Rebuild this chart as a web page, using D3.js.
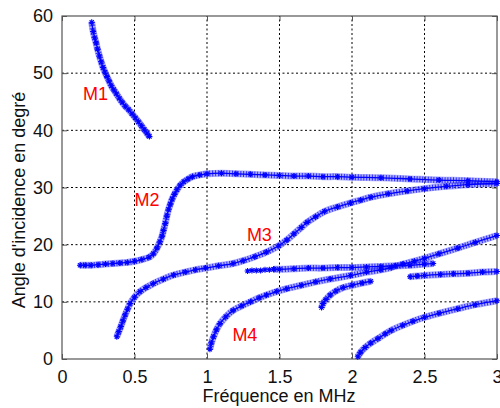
<!DOCTYPE html>
<html lang="fr">
<head>
<meta charset="utf-8">
<script src="https://cdn.jsdelivr.net/npm/d3@7"></script>
<style>
    body { margin: 0; background: #fff; }
    text { font-family: Arial, "Liberation Sans", sans-serif; }
</style>
</head>
<body>
<div id="chart"></div>
<script>
// tick values
const xTicks = [0, 0.5, 1, 1.5, 2, 2.5, 3];
const xTickLabels = ["0", "0.5", "1", "1.5", "2", "2.5", "3"];
const yTicks = [0, 10, 20, 30, 40, 50, 60];

// branches: [frequency MHz, angle deg]
const m1 = [[0.205,58.9],[0.215,57.3],[0.225,56.2],[0.235,55.3],[0.245,54.2],[0.258,53.0],[0.27,52.0],
    [0.283,51.0],[0.296,50.2],[0.31,49.4],[0.325,48.6],[0.34,47.8],[0.357,47.1],[0.375,46.4],[0.395,45.6],
    [0.415,44.9],[0.437,44.2],[0.46,43.6],[0.483,42.9],[0.505,42.2],[0.527,41.5],[0.548,40.8],[0.568,40.1],
    [0.586,39.5],[0.603,38.9]];
const m2 = [[0.124,16.4],[0.16,16.4],[0.2,16.4],[0.25,16.5],[0.3,16.6],[0.35,16.7],[0.4,16.8],[0.45,16.9],
    [0.5,17.1],[0.55,17.4],[0.6,17.8],[0.63,18.4],[0.655,19.4],[0.675,20.5],[0.69,21.5],[0.70,22.5],
    [0.712,23.7],[0.723,25.0],[0.735,26.2],[0.747,27.1],[0.76,28.0],[0.775,28.8],[0.793,29.6],[0.815,30.4],
    [0.84,31.0],[0.87,31.5],[0.9,31.9],[0.95,32.2],[1.0,32.4],[1.1,32.5],[1.2,32.4],[1.3,32.3],[1.4,32.2],
    [1.5,32.1],[1.6,32.0],[1.7,32.0],[1.8,31.9],[1.9,31.9],[2.0,31.8],[2.2,31.7],[2.4,31.5],[2.6,31.3],
    [2.8,31.2],[3.0,31.0]];
const m3 = [[0.378,3.9],[0.392,4.8],[0.406,5.7],[0.42,6.7],[0.435,7.7],[0.452,8.7],[0.47,9.7],[0.5,10.8],
    [0.539,11.8],[0.58,12.5],[0.63,13.2],[0.7,14.0],[0.77,14.7],[0.85,15.2],[0.92,15.6],[0.99,15.9],
    [1.08,16.3],[1.18,16.7],[1.25,17.2],[1.33,17.9],[1.41,18.7],[1.495,19.8],[1.55,20.8],[1.6,21.9],
    [1.65,23.0],[1.69,23.9],[1.75,24.9],[1.81,25.8],[1.9,26.6],[1.99,27.3],[2.06,27.8],[2.13,28.3],
    [2.25,28.9],[2.38,29.4],[2.5,29.8],[2.65,30.2],[2.8,30.5],[3.0,30.7]];
const m4 = [[1.02,1.7],[1.03,2.8],[1.045,3.9],[1.065,5.1],[1.09,6.2],[1.13,7.4],[1.18,8.5],[1.24,9.3],
    [1.30,10.0],[1.36,10.7],[1.41,11.2],[1.48,11.8],[1.55,12.3],[1.65,12.9],[1.75,13.5],[1.85,14.0],
    [1.99,14.6],[2.1,15.2],[2.2,15.6],[2.27,16.0],[2.35,16.6],[2.43,17.1],[2.5,17.6],[2.6,18.4],
    [2.73,19.4],[2.85,20.4],[3.0,21.6]];
const flatStart = [[1.28,15.4],[1.31,15.5],[1.34,15.5],[1.37,15.5],[1.40,15.6],[1.43,15.6],[1.46,15.7]];
const flat = [[1.46,15.7],[1.5,15.7],[1.6,15.8],[1.7,15.9],[1.8,15.9],[1.9,16.0],[2.0,16.0],[2.1,16.1],
    [2.2,16.2],[2.3,16.3],[2.4,16.4],[2.5,16.6],[2.56,16.7]];
const branch = [[1.79,9.0],[1.80,9.7],[1.82,10.4],[1.85,11.2],[1.89,11.9],[1.94,12.5],[2.0,12.9],
    [2.07,13.3],[2.13,13.6]];
const flatRight = [[2.4,14.4],[2.45,14.5],[2.5,14.6],[2.61,14.8],[2.7,14.9],[2.8,15.0],[2.9,15.2],[3.0,15.3]];
const bottom = [[2.04,0.4],[2.06,1.2],[2.09,2.0],[2.13,2.8],[2.18,3.6],[2.23,4.4],[2.27,5.0],[2.35,5.9],
    [2.42,6.6],[2.5,7.3],[2.6,8.0],[2.73,8.8],[2.85,9.5],[3.0,10.2]];

const bands = [m1, m2, m3, m4, flat, branch, flatRight, bottom];
const sparse = [flatStart];

// mode labels
const modeNames = ["M1", "M2", "M3", "M4"];
const modePos = [[0.145, 45.3], [0.5, 26.8], [1.275, 20.6], [1.175, 3.1]];

const width = 500, height = 408;
const svg = d3.select("#chart").append("svg")
    .attr("width", width)
    .attr("height", height);

const x = d3.scaleLinear().domain([0, 3]).range([62, 497]);
const y = d3.scaleLinear().domain([0, 60]).range([359, 16]);

// grid
svg.append("g").selectAll("line")
    .data(xTicks.slice(1, -1))
    .enter().append("line")
        .attr("x1", d => x(d)).attr("x2", d => x(d))
        .attr("y1", y(0)).attr("y2", y(60))
        .attr("stroke", "#000").attr("stroke-width", 1)
        .attr("stroke-dasharray", "2,2.5");
svg.append("g").selectAll("line")
    .data(yTicks.slice(1, -1))
    .enter().append("line")
        .attr("x1", x(0)).attr("x2", x(3))
        .attr("y1", d => y(d)).attr("y2", d => y(d))
        .attr("stroke", "#000").attr("stroke-width", 1)
        .attr("stroke-dasharray", "2,2.5");

// axes with inner ticks
const xAxis = svg.append("g")
    .attr("transform", "translate(0," + y(0) + ")")
    .call(d3.axisBottom(x).tickValues(xTicks).tickSizeInner(-5).tickSizeOuter(0).tickPadding(11)
        .tickFormat((d, i) => xTickLabels[i]));
const yAxis = svg.append("g")
    .attr("transform", "translate(" + x(0) + ",0)")
    .call(d3.axisLeft(y).tickValues(yTicks).tickSizeInner(-5).tickSizeOuter(0).tickPadding(9));
svg.append("g")
    .attr("transform", "translate(0," + y(60) + ")")
    .call(d3.axisTop(x).tickValues(xTicks).tickSizeInner(-5).tickSizeOuter(0).tickFormat(""));
svg.append("g")
    .attr("transform", "translate(" + x(3) + ",0)")
    .call(d3.axisRight(y).tickValues(yTicks).tickSizeInner(-5).tickSizeOuter(0).tickFormat(""));
svg.selectAll(".domain").remove();
svg.selectAll(".tick line").attr("stroke", "#555");
[xAxis, yAxis].forEach(a => {
    a.selectAll("text").style("font-size", "18px").attr("fill", "#111");
});

// box
svg.append("rect")
    .attr("x", x(0)).attr("y", y(60))
    .attr("width", x(3) - x(0)).attr("height", y(0) - y(60))
    .attr("fill", "none").attr("stroke", "#555").attr("stroke-width", 1.2);

// curves
const line = d3.line().x(d => x(d[0])).y(d => y(d[1])).curve(d3.curveCatmullRom);
const star = "M-3,0H3M0,-3V3M-2.1,-2.1L2.1,2.1M-2.1,2.1L2.1,-2.1";

const curves = svg.append("g");
curves.selectAll("path.halo")
    .data(bands)
    .enter().append("path")
        .attr("class", "halo")
        .attr("d", line)
        .attr("fill", "none")
        .attr("stroke", "#6a6aff")
        .attr("stroke-opacity", 0.55)
        .attr("stroke-width", 7);
curves.selectAll("path.tex")
    .data(bands)
    .enter().append("path")
        .attr("class", "tex")
        .attr("d", line)
        .attr("fill", "none")
        .attr("stroke", "#0000ff")
        .attr("stroke-opacity", 0.75)
        .attr("stroke-width", 6)
        .attr("stroke-dasharray", "1,1.8");
curves.selectAll("path.core")
    .data(bands)
    .enter().append("path")
        .attr("class", "core")
        .attr("d", line)
        .attr("fill", "none")
        .attr("stroke", "#0000ff")
        .attr("stroke-width", 1.3);

curves.selectAll("path.star")
    .data(bands.concat(sparse).flat())
    .enter().append("path")
        .attr("class", "star")
        .attr("transform", d => "translate(" + x(d[0]) + "," + y(d[1]) + ")")
        .attr("d", star)
        .attr("fill", "none")
        .attr("stroke", "#0000ff")
        .attr("stroke-width", 1.1);

// mode labels
svg.append("g").selectAll("text")
    .data(modeNames)
    .enter().append("text")
        .attr("x", (d, i) => x(modePos[i][0]))
        .attr("y", (d, i) => y(modePos[i][1]))
        .attr("fill", "#ff0000")
        .style("font-size", "18px")
        .text(d => d);

// axis labels
svg.append("text")
    .attr("x", 279)
    .attr("y", 402)
    .attr("text-anchor", "middle")
    .style("font-size", "18px")
    .attr("fill", "#111")
    .text("Fréquence en MHz");

svg.append("text")
    .attr("transform", "rotate(-90)")
    .attr("x", -200)
    .attr("y", 25)
    .attr("text-anchor", "middle")
    .style("font-size", "18px")
    .attr("fill", "#111")
    .text("Angle d'incidence en degré");
</script>
</body>
</html>
